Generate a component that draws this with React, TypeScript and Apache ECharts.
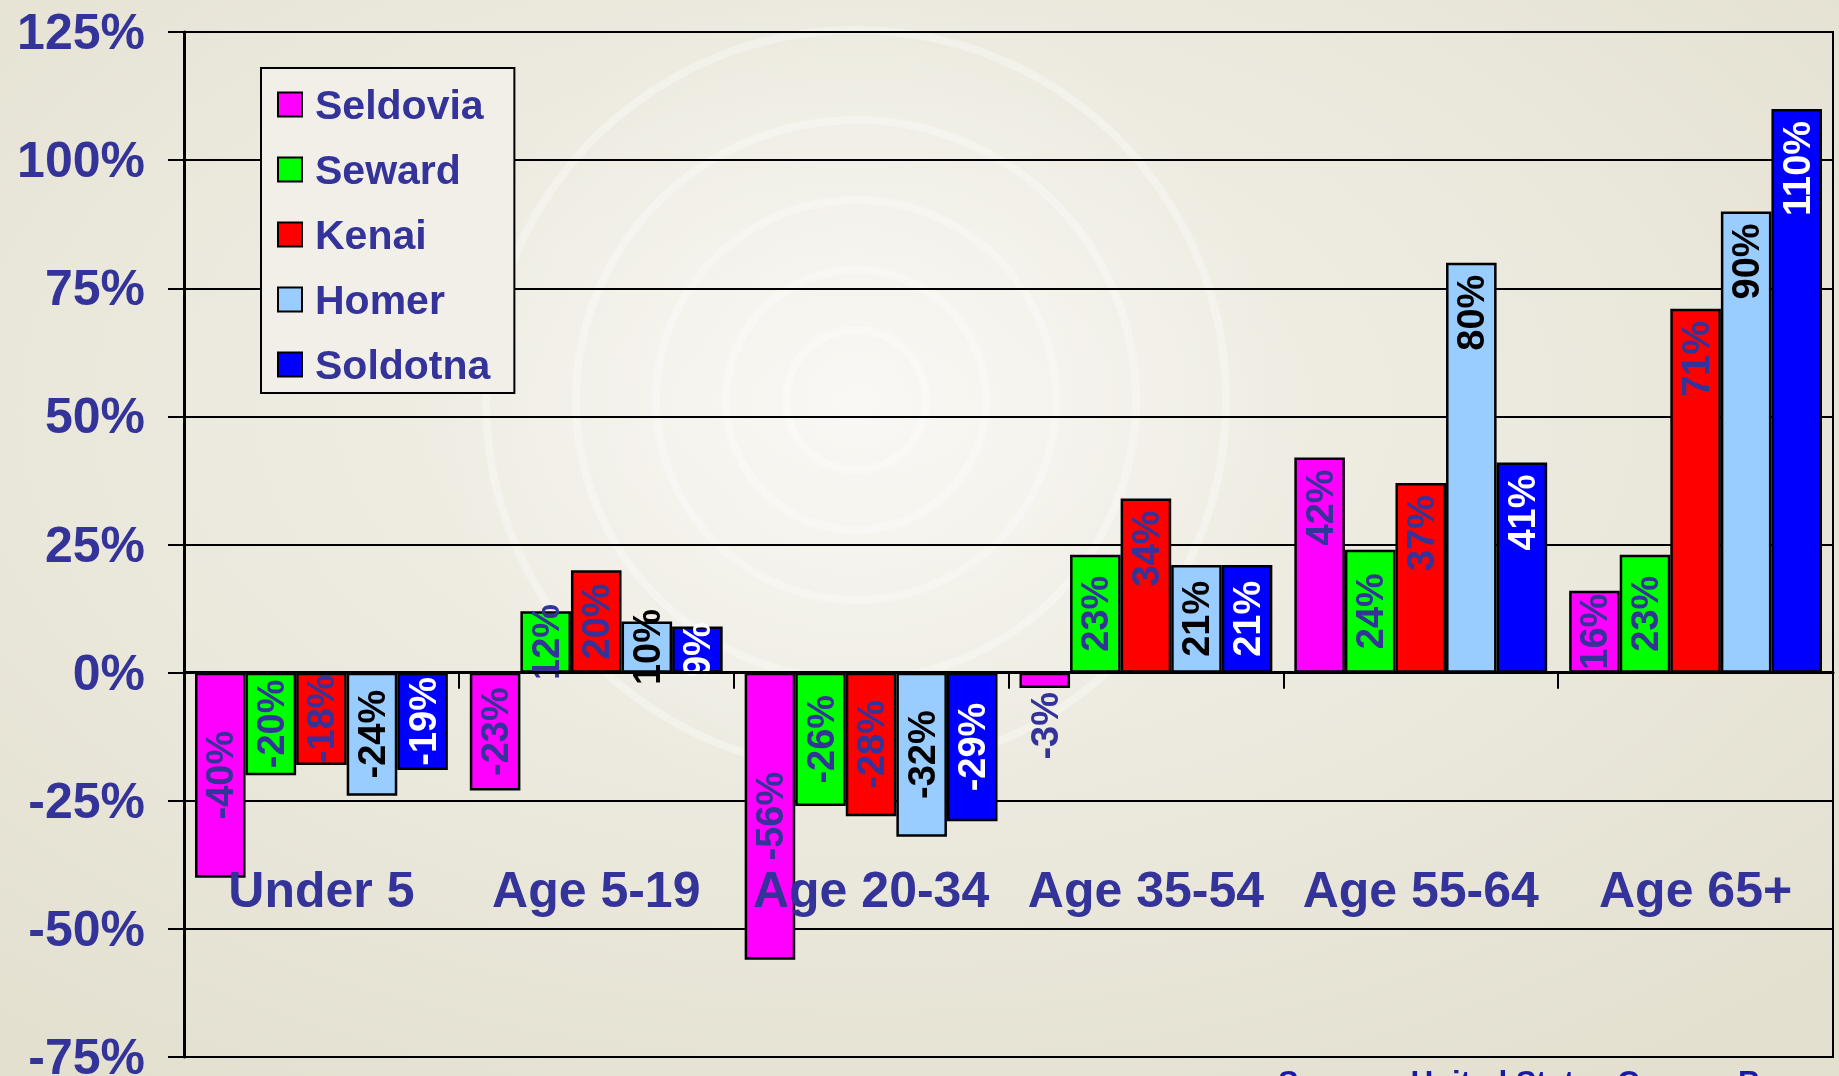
import React, { useEffect, useRef } from "react";
import * as echarts from "echarts";

// ---------- data ----------
const categories = ["Under 5", "Age 5-19", "Age 20-34", "Age 35-54", "Age 55-64", "Age 65+"];
const seriesNames = ["Seldovia", "Seward", "Kenai", "Homer", "Soldotna"];
const seldovia = [-40, -23, -56, -3, 42, 16];
const seward = [-20, 12, -26, 23, 24, 23];
const kenai = [-18, 20, -28, 34, 37, 71];
const homer = [-24, 10, -32, 21, 80, 90];
const soldotna = [-19, 9, -29, 21, 41, 110];
const yMin = -75;
const yMax = 125;
const yInterval = 25;
const sourceText = "Source:  United States Census Bureau";

// ---------- styles ----------
const W = 1839;
const H = 1076;
const FONT = "'Liberation Sans', Arial, sans-serif";
const NAVY = "#333399";
const colors = ["#FF00FF", "#00FF00", "#FF0000", "#99CCFF", "#0000FF"];
const labelColors = ["#333399", "#333399", "#333399", "#000000", "#FFFFFF"];
const GRID = { left: 184, right: 6, top: 32, bottom: 19 };
const LABEL_SIZE = 38;

function measure(text: string): number {
  const c = document.createElement("canvas").getContext("2d");
  if (!c) return text.length * LABEL_SIZE * 0.6;
  c.font = `bold ${LABEL_SIZE}px 'Liberation Sans'`;
  return c.measureText(text).width;
}

function labelFor(v: number) {
  const pxPerUnit = (H - GRID.top - GRID.bottom) / (yMax - yMin);
  const L = measure(v + "%");
  const B = Math.abs(v) * pxPerUnit;
  if (v >= 0) {
    if (B >= L + 50) return { position: "insideTop", distance: 12, align: "right", verticalAlign: "middle" };
    return { position: "inside", align: "center", verticalAlign: "middle" };
  }
  if (B >= L * 0.6) return { position: "inside", align: "center", verticalAlign: "middle" };
  return { position: "bottom", distance: 4, align: "right", verticalAlign: "middle" };
}

export default function App() {
  const ref = useRef<HTMLDivElement>(null);
  useEffect(() => {
    document.body.style.margin = "0";
    if (!ref.current) return;
    const chart = echarts.init(ref.current, undefined, { renderer: "svg" });
    const allSeries = [seldovia, seward, kenai, homer, soldotna];
    const series = allSeries.map((vals, i) => ({
      name: seriesNames[i],
      type: "bar",
      barGap: "0%",
      barCategoryGap: "8%",
      itemStyle: { color: colors[i], borderColor: "#000", borderWidth: 2.5 },
      label: {
        show: true,
        rotate: 90,
        formatter: "{c}%",
        fontSize: LABEL_SIZE,
        fontWeight: "bold",
        fontFamily: FONT,
        color: labelColors[i],
      },
      data: vals.map((v) => ({ value: v, label: labelFor(v) })),
    }));

    const rings = [70, 130, 200, 280, 370].map((r) => ({
      type: "circle",
      z: -10,
      silent: true,
      shape: { cx: 856, cy: 400, r },
      style: { fill: "none", stroke: "rgba(255,255,255,0.3)", lineWidth: 8 },
    }));

    chart.setOption({
      animation: false,
      backgroundColor: {
        type: "radial",
        x: 0.47,
        y: 0.38,
        r: 0.75,
        colorStops: [
          { offset: 0, color: "#f4f2eb" },
          { offset: 1, color: "#e3e0d0" },
        ],
      },
      graphic: [
        {
          type: "circle",
          z: -11,
          silent: true,
          shape: { cx: 856, cy: 400, r: 430 },
          style: {
            fill: {
              type: "radial",
              x: 0.5,
              y: 0.5,
              r: 0.5,
              colorStops: [
                { offset: 0, color: "rgba(255,255,255,0.45)" },
                { offset: 1, color: "rgba(255,255,255,0)" },
              ],
            },
          },
        },
        ...rings,
        {
          type: "text",
          x: 1278,
          y: 1067,
          silent: true,
          style: {
            text: sourceText,
            fontSize: 31,
            fontWeight: "bold",
            fontFamily: FONT,
            fill: "#1a1aa6",
            verticalAlign: "top",
            textVerticalAlign: "top",
          },
        },
      ],
      grid: {
        ...GRID,
        containLabel: false,
        outerBoundsMode: "none",
        show: true,
        borderColor: "#000",
        borderWidth: 2,
        backgroundColor: "transparent",
      },
      legend: {
        data: seriesNames,
        orient: "vertical",
        left: 261,
        top: 68,
        padding: [16, 24, 8, 16],
        itemWidth: 24,
        itemHeight: 24,
        itemGap: 24,
        icon: "rect",
        backgroundColor: "#f1efe8",
        borderColor: "#000",
        borderWidth: 2,
        itemStyle: { borderColor: "#000", borderWidth: 2 },
        textStyle: {
          fontSize: 41,
          fontWeight: "bold",
          color: NAVY,
          fontFamily: FONT,
          lineHeight: 40,
          padding: [0, 0, 0, 8],
        },
      },
      xAxis: {
        type: "category",
        data: categories,
        z: 10,
        axisLine: { show: true, onZero: true, lineStyle: { color: "#000", width: 3 } },
        axisTick: { show: true, length: 16, alignWithLabel: false, lineStyle: { color: "#000", width: 2 } },
        axisLabel: {
          interval: 0,
          margin: -192,
          fontSize: 50,
          fontWeight: "bold",
          fontFamily: FONT,
          color: NAVY,
        },
        splitLine: { show: false },
      },
      yAxis: {
        type: "value",
        min: yMin,
        max: yMax,
        interval: yInterval,
        axisLine: { show: true, lineStyle: { color: "#000", width: 3 } },
        axisTick: { show: true, length: 16, lineStyle: { color: "#000", width: 2 } },
        axisLabel: {
          formatter: "{value}%",
          margin: 39,
          fontSize: 50,
          fontWeight: "bold",
          fontFamily: FONT,
          color: NAVY,
        },
        splitLine: { show: true, lineStyle: { color: "#000", width: 2 } },
      },
      series,
    });
    return () => chart.dispose();
  }, []);
  return <div ref={ref} style={{ position: "fixed", left: 0, top: 0, width: W, height: H }} />;
}
